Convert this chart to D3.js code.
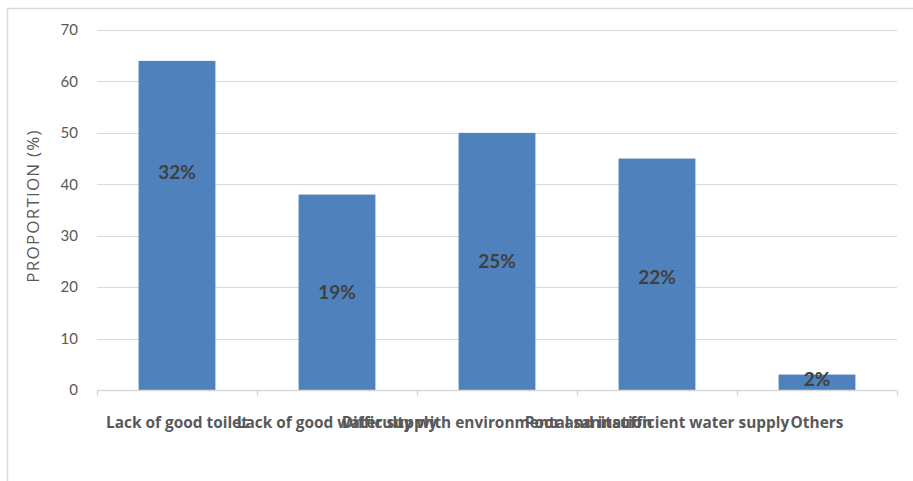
<!DOCTYPE html>
<html>
<head>
<meta charset="utf-8">
<script src="https://cdn.jsdelivr.net/npm/d3@7"></script>
<style>
  html, body { margin: 0; padding: 0; background: #fff; }
  svg { display: block; }
</style>
</head>
<body>
<svg id="chart" width="913" height="481"></svg>
<script>
// Reported problems, number of respondents and share of responses
const categories = [
  "Lack of good toilet",
  "Lack of good water supply",
  "Difficulty with environmental sanitation",
  "Poor and insufficient water supply",
  "Others"
];
const counts = [64, 38, 50, 45, 3];
const shares = [32, 19, 25, 22, 2];
const yTicks = [0, 10, 20, 30, 40, 50, 60, 70];
const yTitle = "PROPORTION (%)";

const svg = d3.select("#chart");
const W = 913, H = 481;
const m = { left: 97, right: 16, top: 30, bottom: 91 };

// outer chart frame (extends past the visible area on the right and bottom)
svg.append("rect")
  .attr("x", 7.5).attr("y", 8.5)
  .attr("width", 1200).attr("height", 1200)
  .attr("fill", "none").attr("stroke", "#d9d9d9").attr("stroke-width", 1.5);

const x = d3.scaleBand().domain(categories)
  .range([m.left, W - m.right]).paddingInner(0.52).paddingOuter(0.26);
const y = d3.scaleLinear().domain([0, 70]).range([H - m.bottom, m.top]);

// horizontal gridlines
svg.append("g")
  .selectAll("line").data(yTicks.filter(t => t > 0)).join("line")
  .attr("x1", m.left).attr("x2", W - m.right)
  .attr("y1", d => Math.round(y(d)) + 0.5).attr("y2", d => Math.round(y(d)) + 0.5)
  .attr("stroke", "#d9d9d9").attr("stroke-width", 1);

// y axis labels
const yAxis = d3.axisLeft(y).tickValues(yTicks).tickSize(0).tickPadding(0);
const gy = svg.append("g").attr("transform", `translate(${m.left - 19},0)`).call(yAxis);
gy.select(".domain").remove();
gy.selectAll("text")
  .attr("fill", "#595959")
  .style("font-family", "Lato, 'Open Sans', sans-serif")
  .style("font-size", "15px");

// y title
svg.append("text")
  .attr("transform", `translate(39,${(y(0) + y(70)) / 2 - 4}) rotate(-90)`)
  .attr("text-anchor", "middle")
  .attr("fill", "#595959")
  .style("font-family", "'Open Sans', sans-serif")
  .style("font-size", "17px")
  .style("letter-spacing", "1.2px")
  .text(yTitle);

// bars
svg.append("g")
  .selectAll("rect").data(categories).join("rect")
  .attr("x", d => x(d))
  .attr("y", (d, i) => y(counts[i]))
  .attr("width", x.bandwidth())
  .attr("height", (d, i) => y(0) - y(counts[i]))
  .attr("fill", "#4f81bd");

// category axis with ticks at band boundaries
const base = Math.round(y(0)) + 0.5;
const edges = d3.range(categories.length + 1).map(i => m.left + i * x.step());
const gx = svg.append("g");
gx.append("line")
  .attr("x1", m.left).attr("x2", W - m.right)
  .attr("y1", base).attr("y2", base)
  .attr("stroke", "#d9d9d9").attr("stroke-width", 1.5);
gx.selectAll("line.tick").data(edges).join("line")
  .attr("class", "tick")
  .attr("x1", d => Math.round(d) + 0.5).attr("x2", d => Math.round(d) + 0.5)
  .attr("y1", base).attr("y2", base + 5)
  .attr("stroke", "#d9d9d9").attr("stroke-width", 1.5);
gx.selectAll("text").data(categories).join("text")
  .attr("x", d => x(d) + x.bandwidth() / 2)
  .attr("y", base + 37)
  .attr("text-anchor", "middle")
  .attr("fill", "#595959")
  .style("font-family", "'Open Sans', sans-serif")
  .style("font-weight", "bold")
  .style("font-size", "15.4px")
  .text(d => d);

// share labels, placed at the share height on the value scale
const labelNudge = i => (i === 0 ? -53 : 0);
svg.append("g")
  .selectAll("text").data(categories).join("text")
  .attr("x", d => x(d) + x.bandwidth() / 2)
  .attr("y", (d, i) => y(shares[i]) + labelNudge(i))
  .attr("dy", "0.35em")
  .attr("text-anchor", "middle")
  .attr("fill", "#404040")
  .style("font-family", "Lato, 'Open Sans', sans-serif")
  .style("font-weight", "bold")
  .style("font-size", "19px")
  .text((d, i) => shares[i] + "%");
</script>
</body>
</html>
